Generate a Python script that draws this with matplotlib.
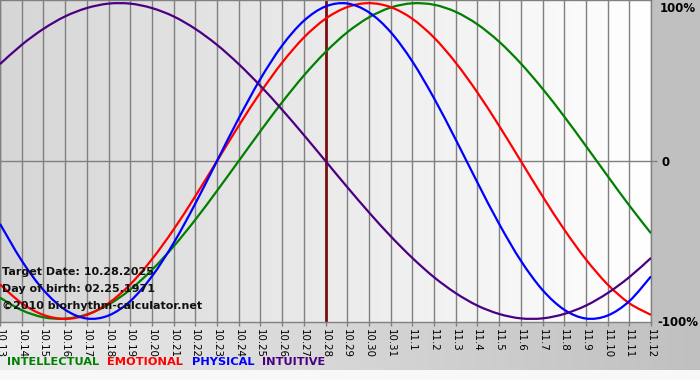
import numpy as np
import matplotlib
matplotlib.use("Agg")
import matplotlib.pyplot as plt
from matplotlib.colors import to_rgb
from matplotlib.path import Path
from matplotlib.patches import PathPatch

# ============================================================
# DATA (daily values, -1..1 = -100%..100%)
# ============================================================

DAY_LABELS = ["10.13", "10.14", "10.15", "10.16", "10.17", "10.18", "10.19",
              "10.20", "10.21", "10.22", "10.23", "10.24", "10.25", "10.26",
              "10.27", "10.28", "10.29", "10.30", "10.31", "11.1", "11.2",
              "11.3", "11.4", "11.5", "11.6", "11.7", "11.8", "11.9",
              "11.10", "11.11", "11.12"]

TARGET_LABEL = "10.28"

PHYSICAL = [-0.398, -0.631, -0.817, -0.942, -0.998, -0.979, -0.888, -0.731,
            -0.520, -0.270, 0.000, 0.270, 0.520, 0.731, 0.888, 0.979, 0.998,
            0.942, 0.817, 0.631, 0.398, 0.136, -0.136, -0.398, -0.631, -0.817,
            -0.942, -0.998, -0.979, -0.888, -0.731]

EMOTIONAL = [-0.782, -0.901, -0.975, -1.000, -0.975, -0.901, -0.782, -0.623,
             -0.434, -0.223, 0.000, 0.223, 0.434, 0.623, 0.782, 0.901, 0.975,
             1.000, 0.975, 0.901, 0.782, 0.623, 0.434, 0.223, 0.000, -0.223,
             -0.434, -0.623, -0.782, -0.901, -0.975]

INTELLECTUAL = [-0.866, -0.945, -0.990, -0.999, -0.972, -0.910, -0.815, -0.690,
                -0.541, -0.372, -0.189, 0.000, 0.189, 0.372, 0.541, 0.690,
                0.815, 0.910, 0.972, 0.999, 0.990, 0.945, 0.866, 0.756, 0.618,
                0.458, 0.282, 0.095, -0.095, -0.282, -0.458]

INTUITIVE = [0.614, 0.736, 0.837, 0.916, 0.969, 0.997, 0.997, 0.969, 0.916,
             0.837, 0.736, 0.614, 0.476, 0.325, 0.165, 0.000, -0.165, -0.325,
             -0.476, -0.614, -0.736, -0.837, -0.916, -0.969, -0.997, -0.997,
             -0.969, -0.916, -0.837, -0.736, -0.614]

SERIES = [
    ("INTELLECTUAL", INTELLECTUAL, "#008000"),
    ("EMOTIONAL",    EMOTIONAL,    "#ff0000"),
    ("PHYSICAL",     PHYSICAL,     "#0000ff"),
    ("INTUITIVE",    INTUITIVE,    "#4b0082"),
]

INFO_LINES = ["Target Date: 10.28.2025",
              "Day of birth: 02.25.1971",
              "\u00a92010 biorhythm-calculator.net"]

# ============================================================
# LAYOUT
# ============================================================

W, H = 700, 380
PLOT_RIGHT = 651
PLOT_BOTTOM = 322
GRID_COLOR = "#808080"


def gradient(c0, c1, n):
    a = np.array(to_rgb(c0))
    b = np.array(to_rgb(c1))
    t = np.linspace(0, 1, n)[:, None]
    return a + (b - a) * t


def smooth_path(xs, ys):
    # Catmull-Rom through the daily points, drawn as cubic Bezier segments
    p = np.column_stack([xs, ys]).astype(float)
    ext = np.vstack([p[0], p, p[-1]])
    verts = [p[0]]
    codes = [Path.MOVETO]
    for i in range(len(p) - 1):
        p0, p1, p2, p3 = ext[i], ext[i + 1], ext[i + 2], ext[i + 3]
        verts += [p1 + (p2 - p0) / 6, p2 - (p3 - p1) / 6, p2]
        codes += [Path.CURVE4] * 3
    return Path(verts, codes)


fig = plt.figure(figsize=(W / 100, H / 100), dpi=100)

# figure background: grey margin right, gradient band at bottom
bg = fig.add_axes([0, 0, 1, 1])
bg.axis("off")
img = np.ones((H, W, 3))
img[:PLOT_BOTTOM, :, :] = to_rgb("#c0c0c0")
img[PLOT_BOTTOM:370, :, :] = gradient("#ececec", "#c0c0c0", W)[None, :, :]
img[370:, :, :] = to_rgb("#f8f8f8")
bg.imshow(img, aspect="auto", extent=(0, W, H, 0), interpolation="nearest")
bg.set_xlim(0, W)
bg.set_ylim(H, 0)

ax = fig.add_axes([0, 1 - PLOT_BOTTOM / H, PLOT_RIGHT / W, PLOT_BOTTOM / H])
x = np.arange(len(DAY_LABELS))
ax.set_xlim(0, len(DAY_LABELS) - 1)
ax.set_ylim(-1.02, 1.02)

# plot area background gradient (grey -> white)
grad = gradient("#d6d6d6", "#ffffff", 256)[None, :, :]
ax.imshow(grad, aspect="auto", extent=(0, len(DAY_LABELS) - 1, -1.02, 1.02),
          zorder=0, interpolation="bilinear")

for xi in x:
    ax.axvline(xi, color=GRID_COLOR, lw=1, zorder=1)
ax.axhline(0, color=GRID_COLOR, lw=1, zorder=1)

# target date marker
t_idx = DAY_LABELS.index(TARGET_LABEL)
ax.axvline(t_idx, color="#7a1010", lw=2, zorder=2)

for name, vals, color in SERIES:
    ax.add_patch(PathPatch(smooth_path(x, vals), facecolor="none",
                           edgecolor=color, lw=1.6, zorder=3))

for s in ax.spines.values():
    s.set_color(GRID_COLOR)
    s.set_linewidth(1)

ax.set_xticks(x)
ax.set_xticklabels(DAY_LABELS, rotation=270, fontsize=7.4, color="#000000")
ax.tick_params(axis="x", direction="out", length=3, width=1,
               color=GRID_COLOR, pad=2)
ax.set_yticks([0])
ax.set_yticklabels([])
ax.tick_params(axis="y", left=False, right=True, direction="out", length=4,
               width=1, color=GRID_COLOR)

# info text inside the plot
for i, line in enumerate(INFO_LINES):
    fig.text(2 / W, 1 - (272 + i * 17) / H, line, fontsize=8.0,
             fontweight="bold", ha="left", va="center", color="#111111")

# right-side percentage labels
fig.text(696 / W, 1 - 8 / H, "100%", fontsize=8.5, fontweight="bold",
         ha="right", va="center")
fig.text(661 / W, 1 - 162 / H, "0", fontsize=8.5, fontweight="bold",
         ha="left", va="center")
fig.text(698 / W, 1 - 322 / H, "-100%", fontsize=8.5, fontweight="bold",
         ha="right", va="center")

# legend row
legend_x = [7, 107, 192, 262]
for (name, vals, color), lx in zip(SERIES, legend_x):
    fig.text(lx / W, 1 - 362 / H, name, fontsize=8.2, color=color,
             ha="left", va="center", fontweight="semibold")

fig.savefig("out.png", dpi=100)
